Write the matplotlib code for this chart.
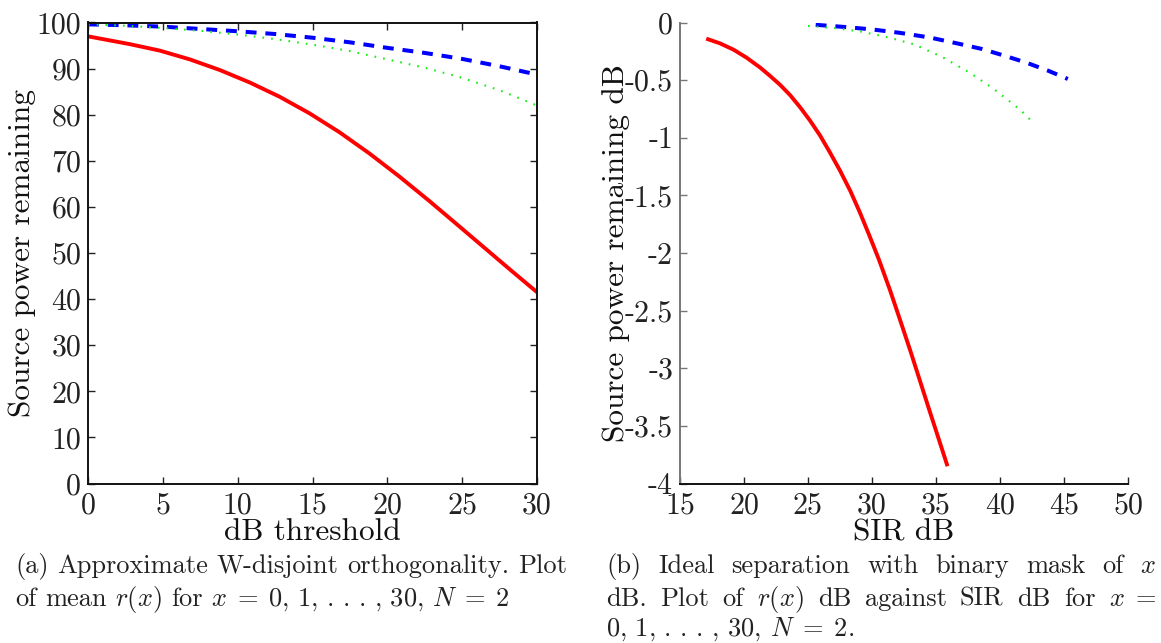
import matplotlib
matplotlib.use("Agg")
import matplotlib.pyplot as plt

plt.rcParams["font.family"] = "serif"
plt.rcParams["font.serif"] = ["cmr10", "DejaVu Serif"]
plt.rcParams["mathtext.fontset"] = "cm"
plt.rcParams["axes.unicode_minus"] = False

# (a) mean r(x) (%) against dB threshold x
thr_red = [0, 2.8, 4.8, 6.8, 8.8, 10.8, 12.8, 14.8, 16.8, 18.8, 20.8, 22.8, 24.8, 26.5, 28.2, 30]
red_a = [97.0, 95.3, 93.9, 92.0, 89.7, 87.0, 83.9, 80.3, 76.2, 71.6, 66.6, 61.3, 55.8, 51.1, 46.4, 41.5]
thr = [0, 2.5, 5, 7.5, 10, 12.5, 15, 17.5, 20, 22.5, 25, 27.5, 30]
blue_a = [99.6, 99.4, 99.1, 98.6, 98.1, 97.5, 96.7, 95.7, 94.5, 93.4, 92.1, 90.5, 88.7]
green_a = [99.6, 99.3, 98.8, 98.2, 97.4, 96.4, 95.2, 93.8, 92.0, 90.2, 88.0, 85.3, 82.0]

# (b) r(x) dB against SIR dB
sir_red = [17.05, 18.1, 19.17, 20.2, 21.25, 22.0, 22.81, 23.6, 24.38, 25.15, 25.94, 26.7, 27.5,
           28.3, 29.06, 29.8, 30.55, 31.4, 32.19, 33.0, 33.75, 34.5, 35.26, 35.9]
r_red = [-0.14, -0.18, -0.235, -0.305, -0.39, -0.46, -0.54, -0.63, -0.735, -0.85, -0.98, -1.125, -1.285,
         -1.46, -1.65, -1.85, -2.06, -2.32, -2.58, -2.85, -3.11, -3.37, -3.63, -3.85]
sir_blue = [25.6, 28.0, 30.0, 32.2, 34.5, 36.6, 38.6, 40.4, 42.1, 43.8, 45.3]
r_blue = [-0.02, -0.04, -0.06, -0.09, -0.13, -0.18, -0.23, -0.29, -0.35, -0.42, -0.49]
sir_green = [25.0, 27.2, 29.2, 31.3, 33.3, 35.5, 37.7, 39.3, 40.6, 41.7, 42.6]
r_green = [-0.03, -0.05, -0.08, -0.13, -0.19, -0.30, -0.44, -0.56, -0.67, -0.77, -0.87]

xticks_a = [0, 5, 10, 15, 20, 25, 30]
yticks_a = [0, 10, 20, 30, 40, 50, 60, 70, 80, 90, 100]
xticks_b = [15, 20, 25, 30, 35, 40, 45, 50]
yticks_b = [0, -0.5, -1, -1.5, -2, -2.5, -3, -3.5, -4]

W, H = 1161, 643
fig = plt.figure(figsize=(W / 100, H / 100), dpi=100)

TICK_FS = 21.5
LAB_FS = 22.5
CAP_FS = 19

red_kw = dict(color="#ff0000", lw=2.8, solid_capstyle="butt", solid_joinstyle="round")
blue_kw = dict(color="#0000ff", lw=2.9, dashes=(2.7, 2.2), dash_capstyle="butt")
green_kw = dict(color="#11ee11", lw=1.5, dashes=(0.8, 3.4))

TOP, BOT = 22.5, 483.5


def px_axes(x0, x1):
    return [x0 / W, 1 - BOT / H, (x1 - x0) / W, (BOT - TOP) / H]


# ---- panel (a)
ax1 = fig.add_axes(px_axes(88, 537))
ax1.plot(thr_red, red_a, **red_kw)
ax1.plot(thr, blue_a, **blue_kw)
ax1.plot(thr, green_a, **green_kw)
ax1.set_xlim(0, 30)
ax1.set_ylim(0, 100)
ax1.set_xticks(xticks_a)
ax1.set_yticks(yticks_a)
ax1.set_xticklabels([str(v) for v in xticks_a])
ax1.set_yticklabels([str(v) for v in yticks_a])
ax1.tick_params(direction="in", top=True, right=True, length=5, width=1,
                labelsize=TICK_FS, colors="#222222")
ax1.tick_params(axis="x", pad=6)
ax1.tick_params(axis="y", pad=5)
for s in ax1.spines.values():
    s.set_linewidth(1.4)
    s.set_color("#111111")
ax1.set_xlabel("dB threshold", fontsize=LAB_FS, color="#111111")
ax1.xaxis.set_label_coords(0.5, -0.075)
ax1.set_ylabel("Source power remaining", fontsize=LAB_FS, color="#111111")
ax1.yaxis.set_label_coords((36 - 88) / (537 - 88), 0.5)

# ---- panel (b)
ax2 = fig.add_axes(px_axes(680, 1128))
ax2.plot(sir_red, r_red, **red_kw)
ax2.plot(sir_blue, r_blue, **blue_kw)
ax2.plot(sir_green, r_green, **green_kw)
ax2.set_xlim(15, 50)
ax2.set_ylim(-4, 0)
ax2.set_xticks(xticks_b)
ax2.set_yticks(yticks_b)
ax2.set_xticklabels([str(v) for v in xticks_b])
ax2.set_yticklabels([("%g" % v) for v in yticks_b])
ax2.spines["top"].set_visible(False)
ax2.spines["right"].set_visible(False)
ax2.spines["left"].set_color("#777777")
ax2.spines["left"].set_linewidth(1.4)
ax2.spines["bottom"].set_color("#111111")
ax2.spines["bottom"].set_linewidth(1.4)
ax2.tick_params(direction="in", length=5, width=1, labelsize=TICK_FS,
                colors="#222222")
ax2.tick_params(axis="x", pad=6)
ax2.tick_params(axis="y", pad=5, color="#777777")
ax2.set_xlabel("SIR dB", fontsize=LAB_FS, color="#111111")
ax2.xaxis.set_label_coords(0.5, -0.075)
ax2.set_ylabel("Source power remaining dB", fontsize=LAB_FS, color="#111111")
ax2.yaxis.set_label_coords((630 - 680) / (1128 - 680), 0.5)

# ---- captions
fig.canvas.draw()
renderer = fig.canvas.get_renderer()


def place_line(words, x0, x1, y, fs, justify=True):
    """Place words on one line; when justified the spaces stretch to fill x0..x1."""
    arts = [fig.text(0, 1 - y / H, w, fontsize=fs, ha="left", va="baseline",
                     color="#222222") for w in words]
    widths = [a.get_window_extent(renderer).width for a in arts]
    if justify and len(words) > 1:
        gap = ((x1 - x0) - sum(widths)) / (len(words) - 1)
    else:
        gap = fs * 0.33 * 100 / 72
    x = x0
    for a, w in zip(arts, widths):
        a.set_x(x / W)
        x += w + gap


seq = r"0,\,1,\,.\,.\,.\,,\,30,"
cap_a = [
    (["(a)", "Approximate", "W-disjoint", "orthogonality.", "Plot"], True),
    (["of", "mean", r"$r(x)$", "for", r"$x\;=\;" + seq + "$", r"$N\;=\;2$"], False),
]
cap_b = [
    (["(b)", "Ideal", "separation", "with", "binary", "mask", "of", r"$x$"], True),
    (["dB.", "Plot", "of", r"$r(x)$", "dB", "against", "SIR", "dB", "for", r"$x\;=$"], True),
    ([r"$" + seq + "$", r"$N\;=\;2.$"], False),
]
baselines = [573, 606, 636]
for (words, just), y in zip(cap_a, baselines):
    place_line(words, 15, 567, y, CAP_FS, just)
for (words, just), y in zip(cap_b, baselines):
    place_line(words, 606, 1156, y, CAP_FS, just)

fig.savefig("out.png", dpi=100)
